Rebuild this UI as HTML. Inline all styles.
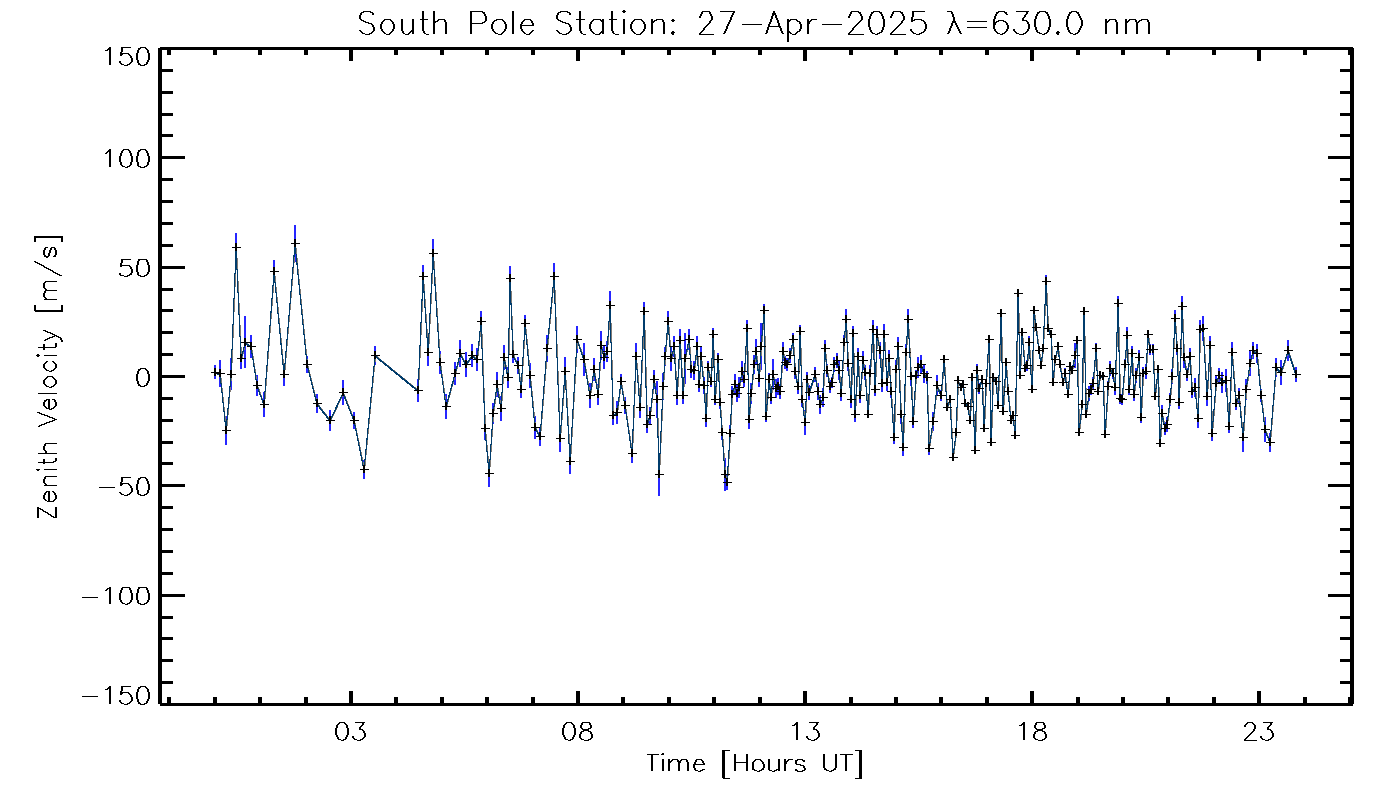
<!DOCTYPE html>
<html lang="en"><head><meta charset="utf-8">
<title>South Pole Station: 27-Apr-2025 λ=630.0 nm</title>
<style>
html,body{margin:0;padding:0;background:#fff}
body{width:1400px;height:800px;overflow:hidden;position:relative;font-family:"Liberation Sans",sans-serif}
svg{display:block;position:absolute;left:0;top:0}
.t{fill:none;stroke:#000;stroke-width:1}
.ln{fill:none;stroke:#003c6c;stroke-width:1;stroke-linecap:square;stroke-linejoin:bevel}
.lg{fill:none;stroke:#807a74;stroke-width:1;stroke-linecap:square;stroke-linejoin:bevel}
.eb{fill:#2626ff}
.ax{fill:#000}
.lbl{fill:#000;fill-opacity:0;font-size:20px}
</style></head><body>
<svg width="1400" height="800" viewBox="0 0 1400 800" shape-rendering="crispEdges" role="img" aria-label="Zenith velocity versus time, South Pole Station">
<rect width="1400" height="800" fill="#fff"/>
<g id="errbars"><path class="eb" d="M214 365h2v14h-2zM219 360h2v27h-2zM225 416h2v29h-2zM230 358h2v32h-2zM235 233h2v29h-2zM240 348h2v21h-2zM244 316h2v52h-2zM250 335h2v23h-2zM256 375h2v21h-2zM263 392h2v25h-2zM273 260h2v23h-2zM283 363h2v23h-2zM294 225h2v37h-2zM306 356h2v17h-2zM316 394h2v19h-2zM329 410h2v21h-2zM342 380h2v25h-2zM353 412h2v17h-2zM363 460h2v19h-2zM374 346h2v19h-2zM417 379h2v23h-2zM422 265h2v23h-2zM427 339h2v27h-2zM432 239h2v29h-2zM439 351h2v23h-2zM445 394h2v25h-2zM454 362h2v23h-2zM459 340h2v27h-2zM465 352h2v25h-2zM471 344h2v23h-2zM476 348h2v23h-2zM480 311h2v21h-2zM484 417h2v23h-2zM488 460h2v27h-2zM492 403h2v21h-2zM496 372h2v25h-2zM500 396h2v25h-2zM503 345h2v25h-2zM507 367h2v21h-2zM509 266h2v25h-2zM512 346h2v17h-2zM517 357h2v17h-2zM520 381h2v17h-2zM524 315h2v17h-2zM529 363h2v25h-2zM534 416h2v23h-2zM539 427h2v19h-2zM546 335h2v27h-2zM553 263h2v27h-2zM559 425h2v27h-2zM564 357h2v29h-2zM569 449h2v25h-2zM576 326h2v27h-2zM583 343h2v33h-2zM589 383h2v25h-2zM593 358h2v23h-2zM597 384h2v21h-2zM600 331h2v29h-2zM603 346h2v23h-2zM606 341h2v21h-2zM609 291h2v29h-2zM612 406h2v19h-2zM616 401h2v23h-2zM620 374h2v15h-2zM624 397h2v17h-2zM631 444h2v19h-2zM635 343h2v27h-2zM639 397h2v21h-2zM643 302h2v19h-2zM646 416h2v17h-2zM649 407h2v17h-2zM653 370h2v19h-2zM656 381h2v37h-2zM658 453h2v43h-2zM662 373h2v27h-2zM664 347h2v19h-2zM667 311h2v21h-2zM670 346h2v25h-2zM673 336h2v21h-2zM676 386h2v19h-2zM679 329h2v23h-2zM682 387h2v17h-2zM684 333h2v51h-2zM688 329h2v21h-2zM690 361h2v17h-2zM693 361h2v19h-2zM696 336h2v21h-2zM698 377h2v15h-2zM700 346h2v21h-2zM703 377h2v17h-2zM705 410h2v17h-2zM707 361h2v13h-2zM710 376h2v11h-2zM712 328h2v13h-2zM714 394h2v11h-2zM717 353h2v13h-2zM719 396h2v13h-2zM721 425h2v15h-2zM724 458h2v33h-2zM726 475h2v15h-2zM729 425h2v17h-2zM731 386h2v17h-2zM734 374h2v21h-2zM736 385h2v17h-2zM738 377h2v21h-2zM741 361h2v21h-2zM743 372h2v15h-2zM746 320h2v17h-2zM748 410h2v19h-2zM750 383h2v21h-2zM753 355h2v19h-2zM755 339h2v25h-2zM758 370h2v17h-2zM760 323h2v47h-2zM763 304h2v13h-2zM765 411h2v11h-2zM768 373h2v13h-2zM770 391h2v13h-2zM772 359h2v31h-2zM775 379h2v19h-2zM777 378h2v17h-2zM779 384h2v15h-2zM782 342h2v19h-2zM784 356h2v13h-2zM786 358h2v13h-2zM789 348h2v15h-2zM792 333h2v13h-2zM794 364h2v15h-2zM797 379h2v15h-2zM799 325h2v13h-2zM801 392h2v15h-2zM804 410h2v25h-2zM806 372h2v15h-2zM808 385h2v15h-2zM814 367h2v15h-2zM817 383h2v17h-2zM819 395h2v19h-2zM822 388h2v19h-2zM824 340h2v17h-2zM826 364h2v13h-2zM829 380h2v13h-2zM831 377h2v11h-2zM833 357h2v15h-2zM836 353h2v15h-2zM838 361h2v19h-2zM840 386h2v15h-2zM843 335h2v15h-2zM845 309h2v21h-2zM847 356h2v15h-2zM850 391h2v17h-2zM852 326h2v15h-2zM854 407h2v15h-2zM857 348h2v17h-2zM859 388h2v15h-2zM862 351h2v19h-2zM864 365h2v15h-2zM867 410h2v8h-2zM869 365h2v17h-2zM872 320h2v19h-2zM874 383h2v13h-2zM876 326h2v17h-2zM879 342h2v17h-2zM881 375h2v17h-2zM883 324h2v21h-2zM886 374h2v17h-2zM888 350h2v17h-2zM890 385h2v13h-2zM893 431h2v13h-2zM895 360h2v19h-2zM897 337h2v19h-2zM900 405h2v19h-2zM902 439h2v17h-2zM905 344h2v17h-2zM907 309h2v21h-2zM910 367h2v19h-2zM912 415h2v13h-2zM915 370h2v11h-2zM917 357h2v21h-2zM920 355h2v19h-2zM923 364h2v19h-2zM926 371h2v13h-2zM928 442h2v13h-2zM932 412h2v19h-2zM936 375h2v21h-2zM940 390h2v11h-2zM943 355h2v8h-2zM946 403h2v8h-2zM949 395h2v8h-2zM952 453h2v8h-2zM955 428h2v8h-2zM957 376h2v8h-2zM960 383h2v8h-2zM962 380h2v8h-2zM964 399h2v8h-2zM967 402h2v8h-2zM969 416h2v8h-2zM971 373h2v8h-2zM974 446h2v8h-2zM976 364h2v13h-2zM978 383h2v11h-2zM981 375h2v8h-2zM983 424h2v8h-2zM985 379h2v8h-2zM988 335h2v8h-2zM990 438h2v8h-2zM992 373h2v8h-2zM995 377h2v8h-2zM997 401h2v8h-2zM1000 309h2v8h-2zM1002 407h2v8h-2zM1005 358h2v8h-2zM1007 387h2v8h-2zM1010 416h2v8h-2zM1012 411h2v8h-2zM1014 431h2v8h-2zM1017 289h2v8h-2zM1019 371h2v8h-2zM1021 328h2v8h-2zM1024 364h2v8h-2zM1026 360h2v11h-2zM1028 336h2v13h-2zM1031 385h2v8h-2zM1033 306h2v8h-2zM1035 323h2v8h-2zM1038 346h2v8h-2zM1040 361h2v8h-2zM1042 344h2v8h-2zM1045 275h2v13h-2zM1047 324h2v8h-2zM1050 330h2v8h-2zM1052 378h2v8h-2zM1054 355h2v8h-2zM1057 342h2v8h-2zM1059 360h2v8h-2zM1062 378h2v8h-2zM1064 368h2v11h-2zM1067 390h2v8h-2zM1069 362h2v8h-2zM1071 366h2v8h-2zM1074 343h2v25h-2zM1076 336h2v8h-2zM1078 428h2v8h-2zM1081 400h2v8h-2zM1083 307h2v8h-2zM1085 410h2v8h-2zM1088 386h2v15h-2zM1090 384h2v11h-2zM1092 377h2v13h-2zM1095 343h2v11h-2zM1097 387h2v8h-2zM1099 371h2v8h-2zM1102 372h2v8h-2zM1104 430h2v8h-2zM1107 381h2v11h-2zM1109 361h2v15h-2zM1112 368h2v11h-2zM1114 380h2v15h-2zM1117 296h2v15h-2zM1119 393h2v11h-2zM1121 394h2v11h-2zM1124 359h2v11h-2zM1126 327h2v17h-2zM1128 384h2v11h-2zM1131 346h2v15h-2zM1133 388h2v13h-2zM1135 368h2v15h-2zM1138 350h2v15h-2zM1140 412h2v11h-2zM1142 367h2v13h-2zM1145 364h2v15h-2zM1147 330h2v8h-2zM1149 344h2v11h-2zM1152 344h2v11h-2zM1154 392h2v8h-2zM1157 365h2v8h-2zM1159 439h2v8h-2zM1161 405h2v17h-2zM1164 422h2v13h-2zM1166 417h2v15h-2zM1169 393h2v13h-2zM1171 369h2v15h-2zM1174 310h2v17h-2zM1176 342h2v13h-2zM1178 396h2v13h-2zM1181 296h2v21h-2zM1183 347h2v21h-2zM1186 368h2v13h-2zM1189 348h2v17h-2zM1191 385h2v13h-2zM1194 378h2v19h-2zM1197 409h2v19h-2zM1199 320h2v19h-2zM1202 316h2v25h-2zM1206 387h2v19h-2zM1209 336h2v19h-2zM1211 426h2v15h-2zM1215 376h2v15h-2zM1218 368h2v15h-2zM1221 372h2v21h-2zM1225 369h2v23h-2zM1228 420h2v13h-2zM1231 342h2v21h-2zM1235 397h2v13h-2zM1238 388h2v15h-2zM1242 423h2v29h-2zM1245 379h2v21h-2zM1249 351h2v25h-2zM1252 342h2v17h-2zM1256 344h2v19h-2zM1260 389h2v13h-2zM1264 417h2v25h-2zM1269 433h2v19h-2zM1275 358h2v19h-2zM1280 360h2v25h-2zM1287 340h2v21h-2zM1295 367h2v15h-2z"/></g>
<g id="series"><polyline id="dg" class="lg" transform="translate(0.5 0)" points="215.02,372.5 220.02,373.5 226.02,430.5 231.02,374.5 236.02,247.5 241.02,358.5 245.02,342.5 251.02,346.5 257.02,385.5 264.02,404.5 274.02,271.5 284.02,374.5 295.02,243.5 307.02,364.5 317.02,403.5 330.02,420.5 343.02,392.5 354.02,420.5 364.02,469.5 375.02,355.5 418.02,390.5 423.02,276.5 428.02,352.5 433.02,253.5 440.02,362.5 446.02,406.5 455.02,373.5 460.02,353.5 466.02,364.5 472.02,355.5 477.02,359.5 481.02,321.5 485.02,428.5 489.02,473.5 493.02,413.5 497.02,384.5 501.02,408.5 504.02,357.5 508.02,377.5 510.02,278.5 513.02,354.5 518.02,365.5 521.02,389.5 525.02,323.5 530.02,375.5 535.02,427.5 540.02,436.5 547.02,348.5 554.02,276.5 560.02,438.5 565.02,371.5 570.02,461.5 577.02,339.5 584.02,359.5 590.02,395.5 594.02,369.5 598.02,394.5 601.02,345.5 604.02,357.5 607.02,351.5 610.02,305.5 613.02,415.5 617.02,412.5 621.02,381.5 625.02,405.5 632.02,453.5 636.02,356.5 640.02,407.5 644.02,311.5 647.02,424.5 650.02,415.5 654.02,379.5 657.02,399.5 659.02,474.5 663.02,386.5 665.02,356.5 668.02,321.5 671.02,358.5 674.02,346.5 677.02,395.5 680.02,340.5 683.02,395.5 685.02,358.5 689.02,339.5 691.02,369.5 694.02,370.5 697.02,346.5 699.02,384.5 701.02,356.5 704.02,385.5 706.02,418.5 708.02,367.5 711.02,381.5 713.02,334.5 715.02,399.5 718.02,359.5 720.02,402.5 722.02,432.5 725.02,474.5 727.02,482.5 730.02,433.5 732.02,394.5 735.02,384.5 737.02,393.5 739.02,387.5 742.02,371.5 744.02,379.5 747.02,328.5 749.02,419.5 751.02,393.5 754.02,364.5 756.02,351.5 759.02,378.5 761.02,346.5 764.02,310.5 766.02,416.5 769.02,379.5 771.02,397.5 773.02,374.5 776.02,388.5 778.02,386.5 780.02,391.5 783.02,351.5 785.02,362.5 787.02,364.5 790.02,355.5 793.02,339.5 795.02,371.5 798.02,386.5 800.02,331.5 802.02,399.5 805.02,422.5 807.02,379.5 809.02,392.5 815.02,374.5 818.02,391.5 820.02,404.5 823.02,397.5 825.02,348.5 827.02,370.5 830.02,386.5 832.02,382.5 834.02,364.5 837.02,360.5 839.02,370.5 841.02,393.5 844.02,342.5 846.02,319.5 848.02,363.5 851.02,399.5 853.02,333.5 855.02,414.5 858.02,356.5 860.02,395.5 863.02,360.5 865.02,372.5 868.02,414.5 870.02,373.5 873.02,329.5 875.02,389.5 877.02,334.5 880.02,350.5 882.02,383.5 884.02,334.5 887.02,382.5 889.02,358.5 891.02,391.5 894.02,437.5 896.02,369.5 898.02,346.5 901.02,414.5 903.02,447.5 906.02,352.5 908.02,319.5 911.02,376.5 913.02,421.5 916.02,375.5 918.02,367.5 921.02,364.5 924.02,373.5 927.02,377.5 929.02,448.5 933.02,421.5 937.02,385.5 941.02,395.5 944.02,359.5 947.02,407.5 950.02,399.5 953.02,457.5 956.02,432.5 958.02,380.5 961.02,387.5 963.02,384.5 965.02,403.5 968.02,406.5 970.02,420.5 972.02,377.5 975.02,450.5 977.02,370.5 979.02,388.5 982.02,379.5 984.02,428.5 986.02,383.5 989.02,339.5 991.02,442.5 993.02,377.5 996.02,381.5 998.02,405.5 1001.02,313.5 1003.02,411.5 1006.02,362.5 1008.02,391.5 1011.02,420.5 1013.02,415.5 1015.02,435.5 1018.02,293.5 1020.02,375.5 1022.02,332.5 1025.02,368.5 1027.02,365.5 1029.02,342.5 1032.02,389.5 1034.02,310.5 1036.02,327.5 1039.02,350.5 1041.02,365.5 1043.02,348.5 1046.02,281.5 1048.02,328.5 1051.02,334.5 1053.02,382.5 1055.02,359.5 1058.02,346.5 1060.02,364.5 1063.02,382.5 1065.02,373.5 1068.02,394.5 1070.02,366.5 1072.02,370.5 1075.02,355.5 1077.02,340.5 1079.02,432.5 1082.02,404.5 1084.02,311.5 1086.02,414.5 1089.02,393.5 1091.02,389.5 1093.02,383.5 1096.02,348.5 1098.02,391.5 1100.02,375.5 1103.02,376.5 1105.02,434.5 1108.02,386.5 1110.02,368.5 1113.02,373.5 1115.02,387.5 1118.02,303.5 1120.02,398.5 1122.02,399.5 1125.02,364.5 1127.02,335.5 1129.02,389.5 1132.02,353.5 1134.02,394.5 1136.02,375.5 1139.02,357.5 1141.02,417.5 1143.02,373.5 1146.02,371.5 1148.02,334.5 1150.02,349.5 1153.02,349.5 1155.02,396.5 1158.02,369.5 1160.02,443.5 1162.02,413.5 1165.02,428.5 1167.02,424.5 1170.02,399.5 1172.02,376.5 1175.02,318.5 1177.02,348.5 1179.02,402.5 1182.02,306.5 1184.02,357.5 1187.02,374.5 1190.02,356.5 1192.02,391.5 1195.02,387.5 1198.02,418.5 1200.02,329.5 1203.02,328.5 1207.02,396.5 1210.02,345.5 1212.02,433.5 1216.02,383.5 1219.02,375.5 1222.02,382.5 1226.02,380.5 1229.02,426.5 1232.02,352.5 1236.02,403.5 1239.02,395.5 1243.02,437.5 1246.02,389.5 1250.02,363.5 1253.02,350.5 1257.02,353.5 1261.02,395.5 1265.02,429.5 1270.02,442.5 1276.02,367.5 1281.02,372.5 1288.02,350.5 1296.02,374.5"/><use href="#dg" y="1"/>
<polyline id="dl" class="ln" points="215.02,372.5 220.02,373.5 226.02,430.5 231.02,374.5 236.02,247.5 241.02,358.5 245.02,342.5 251.02,346.5 257.02,385.5 264.02,404.5 274.02,271.5 284.02,374.5 295.02,243.5 307.02,364.5 317.02,403.5 330.02,420.5 343.02,392.5 354.02,420.5 364.02,469.5 375.02,355.5 418.02,390.5 423.02,276.5 428.02,352.5 433.02,253.5 440.02,362.5 446.02,406.5 455.02,373.5 460.02,353.5 466.02,364.5 472.02,355.5 477.02,359.5 481.02,321.5 485.02,428.5 489.02,473.5 493.02,413.5 497.02,384.5 501.02,408.5 504.02,357.5 508.02,377.5 510.02,278.5 513.02,354.5 518.02,365.5 521.02,389.5 525.02,323.5 530.02,375.5 535.02,427.5 540.02,436.5 547.02,348.5 554.02,276.5 560.02,438.5 565.02,371.5 570.02,461.5 577.02,339.5 584.02,359.5 590.02,395.5 594.02,369.5 598.02,394.5 601.02,345.5 604.02,357.5 607.02,351.5 610.02,305.5 613.02,415.5 617.02,412.5 621.02,381.5 625.02,405.5 632.02,453.5 636.02,356.5 640.02,407.5 644.02,311.5 647.02,424.5 650.02,415.5 654.02,379.5 657.02,399.5 659.02,474.5 663.02,386.5 665.02,356.5 668.02,321.5 671.02,358.5 674.02,346.5 677.02,395.5 680.02,340.5 683.02,395.5 685.02,358.5 689.02,339.5 691.02,369.5 694.02,370.5 697.02,346.5 699.02,384.5 701.02,356.5 704.02,385.5 706.02,418.5 708.02,367.5 711.02,381.5 713.02,334.5 715.02,399.5 718.02,359.5 720.02,402.5 722.02,432.5 725.02,474.5 727.02,482.5 730.02,433.5 732.02,394.5 735.02,384.5 737.02,393.5 739.02,387.5 742.02,371.5 744.02,379.5 747.02,328.5 749.02,419.5 751.02,393.5 754.02,364.5 756.02,351.5 759.02,378.5 761.02,346.5 764.02,310.5 766.02,416.5 769.02,379.5 771.02,397.5 773.02,374.5 776.02,388.5 778.02,386.5 780.02,391.5 783.02,351.5 785.02,362.5 787.02,364.5 790.02,355.5 793.02,339.5 795.02,371.5 798.02,386.5 800.02,331.5 802.02,399.5 805.02,422.5 807.02,379.5 809.02,392.5 815.02,374.5 818.02,391.5 820.02,404.5 823.02,397.5 825.02,348.5 827.02,370.5 830.02,386.5 832.02,382.5 834.02,364.5 837.02,360.5 839.02,370.5 841.02,393.5 844.02,342.5 846.02,319.5 848.02,363.5 851.02,399.5 853.02,333.5 855.02,414.5 858.02,356.5 860.02,395.5 863.02,360.5 865.02,372.5 868.02,414.5 870.02,373.5 873.02,329.5 875.02,389.5 877.02,334.5 880.02,350.5 882.02,383.5 884.02,334.5 887.02,382.5 889.02,358.5 891.02,391.5 894.02,437.5 896.02,369.5 898.02,346.5 901.02,414.5 903.02,447.5 906.02,352.5 908.02,319.5 911.02,376.5 913.02,421.5 916.02,375.5 918.02,367.5 921.02,364.5 924.02,373.5 927.02,377.5 929.02,448.5 933.02,421.5 937.02,385.5 941.02,395.5 944.02,359.5 947.02,407.5 950.02,399.5 953.02,457.5 956.02,432.5 958.02,380.5 961.02,387.5 963.02,384.5 965.02,403.5 968.02,406.5 970.02,420.5 972.02,377.5 975.02,450.5 977.02,370.5 979.02,388.5 982.02,379.5 984.02,428.5 986.02,383.5 989.02,339.5 991.02,442.5 993.02,377.5 996.02,381.5 998.02,405.5 1001.02,313.5 1003.02,411.5 1006.02,362.5 1008.02,391.5 1011.02,420.5 1013.02,415.5 1015.02,435.5 1018.02,293.5 1020.02,375.5 1022.02,332.5 1025.02,368.5 1027.02,365.5 1029.02,342.5 1032.02,389.5 1034.02,310.5 1036.02,327.5 1039.02,350.5 1041.02,365.5 1043.02,348.5 1046.02,281.5 1048.02,328.5 1051.02,334.5 1053.02,382.5 1055.02,359.5 1058.02,346.5 1060.02,364.5 1063.02,382.5 1065.02,373.5 1068.02,394.5 1070.02,366.5 1072.02,370.5 1075.02,355.5 1077.02,340.5 1079.02,432.5 1082.02,404.5 1084.02,311.5 1086.02,414.5 1089.02,393.5 1091.02,389.5 1093.02,383.5 1096.02,348.5 1098.02,391.5 1100.02,375.5 1103.02,376.5 1105.02,434.5 1108.02,386.5 1110.02,368.5 1113.02,373.5 1115.02,387.5 1118.02,303.5 1120.02,398.5 1122.02,399.5 1125.02,364.5 1127.02,335.5 1129.02,389.5 1132.02,353.5 1134.02,394.5 1136.02,375.5 1139.02,357.5 1141.02,417.5 1143.02,373.5 1146.02,371.5 1148.02,334.5 1150.02,349.5 1153.02,349.5 1155.02,396.5 1158.02,369.5 1160.02,443.5 1162.02,413.5 1165.02,428.5 1167.02,424.5 1170.02,399.5 1172.02,376.5 1175.02,318.5 1177.02,348.5 1179.02,402.5 1182.02,306.5 1184.02,357.5 1187.02,374.5 1190.02,356.5 1192.02,391.5 1195.02,387.5 1198.02,418.5 1200.02,329.5 1203.02,328.5 1207.02,396.5 1210.02,345.5 1212.02,433.5 1216.02,383.5 1219.02,375.5 1222.02,382.5 1226.02,380.5 1229.02,426.5 1232.02,352.5 1236.02,403.5 1239.02,395.5 1243.02,437.5 1246.02,389.5 1250.02,363.5 1253.02,350.5 1257.02,353.5 1261.02,395.5 1265.02,429.5 1270.02,442.5 1276.02,367.5 1281.02,372.5 1288.02,350.5 1296.02,374.5"/><use href="#dl" y="1"/></g>
<g id="markers"><path class="ax" d="M214 368h2v8h-2zM211 372h9v1h-9zM219 369h2v8h-2zM216 373h9v1h-9zM225 426h2v8h-2zM222 430h9v1h-9zM230 370h2v8h-2zM227 374h9v1h-9zM235 243h2v8h-2zM232 247h9v1h-9zM240 354h2v8h-2zM237 358h9v1h-9zM244 338h2v8h-2zM241 342h9v1h-9zM250 342h2v8h-2zM247 346h9v1h-9zM256 381h2v8h-2zM253 385h9v1h-9zM263 400h2v8h-2zM260 404h9v1h-9zM273 267h2v8h-2zM270 271h9v1h-9zM283 370h2v8h-2zM280 374h9v1h-9zM294 239h2v8h-2zM291 243h9v1h-9zM306 360h2v8h-2zM303 364h9v1h-9zM316 399h2v8h-2zM313 403h9v1h-9zM329 416h2v8h-2zM326 420h9v1h-9zM342 388h2v8h-2zM339 392h9v1h-9zM353 416h2v8h-2zM350 420h9v1h-9zM363 465h2v8h-2zM360 469h9v1h-9zM374 351h2v8h-2zM371 355h9v1h-9zM417 386h2v8h-2zM414 390h9v1h-9zM422 272h2v8h-2zM419 276h9v1h-9zM427 348h2v8h-2zM424 352h9v1h-9zM432 249h2v8h-2zM429 253h9v1h-9zM439 358h2v8h-2zM436 362h9v1h-9zM445 402h2v8h-2zM442 406h9v1h-9zM454 369h2v8h-2zM451 373h9v1h-9zM459 349h2v8h-2zM456 353h9v1h-9zM465 360h2v8h-2zM462 364h9v1h-9zM471 351h2v8h-2zM468 355h9v1h-9zM476 355h2v8h-2zM473 359h9v1h-9zM480 317h2v8h-2zM477 321h9v1h-9zM484 424h2v8h-2zM481 428h9v1h-9zM488 469h2v8h-2zM485 473h9v1h-9zM492 409h2v8h-2zM489 413h9v1h-9zM496 380h2v8h-2zM493 384h9v1h-9zM500 404h2v8h-2zM497 408h9v1h-9zM503 353h2v8h-2zM500 357h9v1h-9zM507 373h2v8h-2zM504 377h9v1h-9zM509 274h2v8h-2zM506 278h9v1h-9zM512 350h2v8h-2zM509 354h9v1h-9zM517 361h2v8h-2zM514 365h9v1h-9zM520 385h2v8h-2zM517 389h9v1h-9zM524 319h2v8h-2zM521 323h9v1h-9zM529 371h2v8h-2zM526 375h9v1h-9zM534 423h2v8h-2zM531 427h9v1h-9zM539 432h2v8h-2zM536 436h9v1h-9zM546 344h2v8h-2zM543 348h9v1h-9zM553 272h2v8h-2zM550 276h9v1h-9zM559 434h2v8h-2zM556 438h9v1h-9zM564 367h2v8h-2zM561 371h9v1h-9zM569 457h2v8h-2zM566 461h9v1h-9zM576 335h2v8h-2zM573 339h9v1h-9zM583 355h2v8h-2zM580 359h9v1h-9zM589 391h2v8h-2zM586 395h9v1h-9zM593 365h2v8h-2zM590 369h9v1h-9zM597 390h2v8h-2zM594 394h9v1h-9zM600 341h2v8h-2zM597 345h9v1h-9zM603 353h2v8h-2zM600 357h9v1h-9zM606 347h2v8h-2zM603 351h9v1h-9zM609 301h2v8h-2zM606 305h9v1h-9zM612 411h2v8h-2zM609 415h9v1h-9zM616 408h2v8h-2zM613 412h9v1h-9zM620 377h2v8h-2zM617 381h9v1h-9zM624 401h2v8h-2zM621 405h9v1h-9zM631 449h2v8h-2zM628 453h9v1h-9zM635 352h2v8h-2zM632 356h9v1h-9zM639 403h2v8h-2zM636 407h9v1h-9zM643 307h2v8h-2zM640 311h9v1h-9zM646 420h2v8h-2zM643 424h9v1h-9zM649 411h2v8h-2zM646 415h9v1h-9zM653 375h2v8h-2zM650 379h9v1h-9zM656 395h2v8h-2zM653 399h9v1h-9zM658 470h2v8h-2zM655 474h9v1h-9zM662 382h2v8h-2zM659 386h9v1h-9zM664 352h2v8h-2zM661 356h9v1h-9zM667 317h2v8h-2zM664 321h9v1h-9zM670 354h2v8h-2zM667 358h9v1h-9zM673 342h2v8h-2zM670 346h9v1h-9zM676 391h2v8h-2zM673 395h9v1h-9zM679 336h2v8h-2zM676 340h9v1h-9zM682 391h2v8h-2zM679 395h9v1h-9zM684 354h2v8h-2zM681 358h9v1h-9zM688 335h2v8h-2zM685 339h9v1h-9zM690 365h2v8h-2zM687 369h9v1h-9zM693 366h2v8h-2zM690 370h9v1h-9zM696 342h2v8h-2zM693 346h9v1h-9zM698 380h2v8h-2zM695 384h9v1h-9zM700 352h2v8h-2zM697 356h9v1h-9zM703 381h2v8h-2zM700 385h9v1h-9zM705 414h2v8h-2zM702 418h9v1h-9zM707 363h2v8h-2zM704 367h9v1h-9zM710 377h2v8h-2zM707 381h9v1h-9zM712 330h2v8h-2zM709 334h9v1h-9zM714 395h2v8h-2zM711 399h9v1h-9zM717 355h2v8h-2zM714 359h9v1h-9zM719 398h2v8h-2zM716 402h9v1h-9zM721 428h2v8h-2zM718 432h9v1h-9zM724 470h2v8h-2zM721 474h9v1h-9zM726 478h2v8h-2zM723 482h9v1h-9zM729 429h2v8h-2zM726 433h9v1h-9zM731 390h2v8h-2zM728 394h9v1h-9zM734 380h2v8h-2zM731 384h9v1h-9zM736 389h2v8h-2zM733 393h9v1h-9zM738 383h2v8h-2zM735 387h9v1h-9zM741 367h2v8h-2zM738 371h9v1h-9zM743 375h2v8h-2zM740 379h9v1h-9zM746 324h2v8h-2zM743 328h9v1h-9zM748 415h2v8h-2zM745 419h9v1h-9zM750 389h2v8h-2zM747 393h9v1h-9zM753 360h2v8h-2zM750 364h9v1h-9zM755 347h2v8h-2zM752 351h9v1h-9zM758 374h2v8h-2zM755 378h9v1h-9zM760 342h2v8h-2zM757 346h9v1h-9zM763 306h2v8h-2zM760 310h9v1h-9zM765 412h2v8h-2zM762 416h9v1h-9zM768 375h2v8h-2zM765 379h9v1h-9zM770 393h2v8h-2zM767 397h9v1h-9zM772 370h2v8h-2zM769 374h9v1h-9zM775 384h2v8h-2zM772 388h9v1h-9zM777 382h2v8h-2zM774 386h9v1h-9zM779 387h2v8h-2zM776 391h9v1h-9zM782 347h2v8h-2zM779 351h9v1h-9zM784 358h2v8h-2zM781 362h9v1h-9zM786 360h2v8h-2zM783 364h9v1h-9zM789 351h2v8h-2zM786 355h9v1h-9zM792 335h2v8h-2zM789 339h9v1h-9zM794 367h2v8h-2zM791 371h9v1h-9zM797 382h2v8h-2zM794 386h9v1h-9zM799 327h2v8h-2zM796 331h9v1h-9zM801 395h2v8h-2zM798 399h9v1h-9zM804 418h2v8h-2zM801 422h9v1h-9zM806 375h2v8h-2zM803 379h9v1h-9zM808 388h2v8h-2zM805 392h9v1h-9zM814 370h2v8h-2zM811 374h9v1h-9zM817 387h2v8h-2zM814 391h9v1h-9zM819 400h2v8h-2zM816 404h9v1h-9zM822 393h2v8h-2zM819 397h9v1h-9zM824 344h2v8h-2zM821 348h9v1h-9zM826 366h2v8h-2zM823 370h9v1h-9zM829 382h2v8h-2zM826 386h9v1h-9zM831 378h2v8h-2zM828 382h9v1h-9zM833 360h2v8h-2zM830 364h9v1h-9zM836 356h2v8h-2zM833 360h9v1h-9zM838 366h2v8h-2zM835 370h9v1h-9zM840 389h2v8h-2zM837 393h9v1h-9zM843 338h2v8h-2zM840 342h9v1h-9zM845 315h2v8h-2zM842 319h9v1h-9zM847 359h2v8h-2zM844 363h9v1h-9zM850 395h2v8h-2zM847 399h9v1h-9zM852 329h2v8h-2zM849 333h9v1h-9zM854 410h2v8h-2zM851 414h9v1h-9zM857 352h2v8h-2zM854 356h9v1h-9zM859 391h2v8h-2zM856 395h9v1h-9zM862 356h2v8h-2zM859 360h9v1h-9zM864 368h2v8h-2zM861 372h9v1h-9zM867 410h2v8h-2zM864 414h9v1h-9zM869 369h2v8h-2zM866 373h9v1h-9zM872 325h2v8h-2zM869 329h9v1h-9zM874 385h2v8h-2zM871 389h9v1h-9zM876 330h2v8h-2zM873 334h9v1h-9zM879 346h2v8h-2zM876 350h9v1h-9zM881 379h2v8h-2zM878 383h9v1h-9zM883 330h2v8h-2zM880 334h9v1h-9zM886 378h2v8h-2zM883 382h9v1h-9zM888 354h2v8h-2zM885 358h9v1h-9zM890 387h2v8h-2zM887 391h9v1h-9zM893 433h2v8h-2zM890 437h9v1h-9zM895 365h2v8h-2zM892 369h9v1h-9zM897 342h2v8h-2zM894 346h9v1h-9zM900 410h2v8h-2zM897 414h9v1h-9zM902 443h2v8h-2zM899 447h9v1h-9zM905 348h2v8h-2zM902 352h9v1h-9zM907 315h2v8h-2zM904 319h9v1h-9zM910 372h2v8h-2zM907 376h9v1h-9zM912 417h2v8h-2zM909 421h9v1h-9zM915 371h2v8h-2zM912 375h9v1h-9zM917 363h2v8h-2zM914 367h9v1h-9zM920 360h2v8h-2zM917 364h9v1h-9zM923 369h2v8h-2zM920 373h9v1h-9zM926 373h2v8h-2zM923 377h9v1h-9zM928 444h2v8h-2zM925 448h9v1h-9zM932 417h2v8h-2zM929 421h9v1h-9zM936 381h2v8h-2zM933 385h9v1h-9zM940 391h2v8h-2zM937 395h9v1h-9zM943 355h2v8h-2zM940 359h9v1h-9zM946 403h2v8h-2zM943 407h9v1h-9zM949 395h2v8h-2zM946 399h9v1h-9zM952 453h2v8h-2zM949 457h9v1h-9zM955 428h2v8h-2zM952 432h9v1h-9zM957 376h2v8h-2zM954 380h9v1h-9zM960 383h2v8h-2zM957 387h9v1h-9zM962 380h2v8h-2zM959 384h9v1h-9zM964 399h2v8h-2zM961 403h9v1h-9zM967 402h2v8h-2zM964 406h9v1h-9zM969 416h2v8h-2zM966 420h9v1h-9zM971 373h2v8h-2zM968 377h9v1h-9zM974 446h2v8h-2zM971 450h9v1h-9zM976 366h2v8h-2zM973 370h9v1h-9zM978 384h2v8h-2zM975 388h9v1h-9zM981 375h2v8h-2zM978 379h9v1h-9zM983 424h2v8h-2zM980 428h9v1h-9zM985 379h2v8h-2zM982 383h9v1h-9zM988 335h2v8h-2zM985 339h9v1h-9zM990 438h2v8h-2zM987 442h9v1h-9zM992 373h2v8h-2zM989 377h9v1h-9zM995 377h2v8h-2zM992 381h9v1h-9zM997 401h2v8h-2zM994 405h9v1h-9zM1000 309h2v8h-2zM997 313h9v1h-9zM1002 407h2v8h-2zM999 411h9v1h-9zM1005 358h2v8h-2zM1002 362h9v1h-9zM1007 387h2v8h-2zM1004 391h9v1h-9zM1010 416h2v8h-2zM1007 420h9v1h-9zM1012 411h2v8h-2zM1009 415h9v1h-9zM1014 431h2v8h-2zM1011 435h9v1h-9zM1017 289h2v8h-2zM1014 293h9v1h-9zM1019 371h2v8h-2zM1016 375h9v1h-9zM1021 328h2v8h-2zM1018 332h9v1h-9zM1024 364h2v8h-2zM1021 368h9v1h-9zM1026 361h2v8h-2zM1023 365h9v1h-9zM1028 338h2v8h-2zM1025 342h9v1h-9zM1031 385h2v8h-2zM1028 389h9v1h-9zM1033 306h2v8h-2zM1030 310h9v1h-9zM1035 323h2v8h-2zM1032 327h9v1h-9zM1038 346h2v8h-2zM1035 350h9v1h-9zM1040 361h2v8h-2zM1037 365h9v1h-9zM1042 344h2v8h-2zM1039 348h9v1h-9zM1045 277h2v8h-2zM1042 281h9v1h-9zM1047 324h2v8h-2zM1044 328h9v1h-9zM1050 330h2v8h-2zM1047 334h9v1h-9zM1052 378h2v8h-2zM1049 382h9v1h-9zM1054 355h2v8h-2zM1051 359h9v1h-9zM1057 342h2v8h-2zM1054 346h9v1h-9zM1059 360h2v8h-2zM1056 364h9v1h-9zM1062 378h2v8h-2zM1059 382h9v1h-9zM1064 369h2v8h-2zM1061 373h9v1h-9zM1067 390h2v8h-2zM1064 394h9v1h-9zM1069 362h2v8h-2zM1066 366h9v1h-9zM1071 366h2v8h-2zM1068 370h9v1h-9zM1074 351h2v8h-2zM1071 355h9v1h-9zM1076 336h2v8h-2zM1073 340h9v1h-9zM1078 428h2v8h-2zM1075 432h9v1h-9zM1081 400h2v8h-2zM1078 404h9v1h-9zM1083 307h2v8h-2zM1080 311h9v1h-9zM1085 410h2v8h-2zM1082 414h9v1h-9zM1088 389h2v8h-2zM1085 393h9v1h-9zM1090 385h2v8h-2zM1087 389h9v1h-9zM1092 379h2v8h-2zM1089 383h9v1h-9zM1095 344h2v8h-2zM1092 348h9v1h-9zM1097 387h2v8h-2zM1094 391h9v1h-9zM1099 371h2v8h-2zM1096 375h9v1h-9zM1102 372h2v8h-2zM1099 376h9v1h-9zM1104 430h2v8h-2zM1101 434h9v1h-9zM1107 382h2v8h-2zM1104 386h9v1h-9zM1109 364h2v8h-2zM1106 368h9v1h-9zM1112 369h2v8h-2zM1109 373h9v1h-9zM1114 383h2v8h-2zM1111 387h9v1h-9zM1117 299h2v8h-2zM1114 303h9v1h-9zM1119 394h2v8h-2zM1116 398h9v1h-9zM1121 395h2v8h-2zM1118 399h9v1h-9zM1124 360h2v8h-2zM1121 364h9v1h-9zM1126 331h2v8h-2zM1123 335h9v1h-9zM1128 385h2v8h-2zM1125 389h9v1h-9zM1131 349h2v8h-2zM1128 353h9v1h-9zM1133 390h2v8h-2zM1130 394h9v1h-9zM1135 371h2v8h-2zM1132 375h9v1h-9zM1138 353h2v8h-2zM1135 357h9v1h-9zM1140 413h2v8h-2zM1137 417h9v1h-9zM1142 369h2v8h-2zM1139 373h9v1h-9zM1145 367h2v8h-2zM1142 371h9v1h-9zM1147 330h2v8h-2zM1144 334h9v1h-9zM1149 345h2v8h-2zM1146 349h9v1h-9zM1152 345h2v8h-2zM1149 349h9v1h-9zM1154 392h2v8h-2zM1151 396h9v1h-9zM1157 365h2v8h-2zM1154 369h9v1h-9zM1159 439h2v8h-2zM1156 443h9v1h-9zM1161 409h2v8h-2zM1158 413h9v1h-9zM1164 424h2v8h-2zM1161 428h9v1h-9zM1166 420h2v8h-2zM1163 424h9v1h-9zM1169 395h2v8h-2zM1166 399h9v1h-9zM1171 372h2v8h-2zM1168 376h9v1h-9zM1174 314h2v8h-2zM1171 318h9v1h-9zM1176 344h2v8h-2zM1173 348h9v1h-9zM1178 398h2v8h-2zM1175 402h9v1h-9zM1181 302h2v8h-2zM1178 306h9v1h-9zM1183 353h2v8h-2zM1180 357h9v1h-9zM1186 370h2v8h-2zM1183 374h9v1h-9zM1189 352h2v8h-2zM1186 356h9v1h-9zM1191 387h2v8h-2zM1188 391h9v1h-9zM1194 383h2v8h-2zM1191 387h9v1h-9zM1197 414h2v8h-2zM1194 418h9v1h-9zM1199 325h2v8h-2zM1196 329h9v1h-9zM1202 324h2v8h-2zM1199 328h9v1h-9zM1206 392h2v8h-2zM1203 396h9v1h-9zM1209 341h2v8h-2zM1206 345h9v1h-9zM1211 429h2v8h-2zM1208 433h9v1h-9zM1215 379h2v8h-2zM1212 383h9v1h-9zM1218 371h2v8h-2zM1215 375h9v1h-9zM1221 378h2v8h-2zM1218 382h9v1h-9zM1225 376h2v8h-2zM1222 380h9v1h-9zM1228 422h2v8h-2zM1225 426h9v1h-9zM1231 348h2v8h-2zM1228 352h9v1h-9zM1235 399h2v8h-2zM1232 403h9v1h-9zM1238 391h2v8h-2zM1235 395h9v1h-9zM1242 433h2v8h-2zM1239 437h9v1h-9zM1245 385h2v8h-2zM1242 389h9v1h-9zM1249 359h2v8h-2zM1246 363h9v1h-9zM1252 346h2v8h-2zM1249 350h9v1h-9zM1256 349h2v8h-2zM1253 353h9v1h-9zM1260 391h2v8h-2zM1257 395h9v1h-9zM1264 425h2v8h-2zM1261 429h9v1h-9zM1269 438h2v8h-2zM1266 442h9v1h-9zM1275 363h2v8h-2zM1272 367h9v1h-9zM1280 368h2v8h-2zM1277 372h9v1h-9zM1287 346h2v8h-2zM1284 350h9v1h-9zM1295 370h2v8h-2zM1292 374h9v1h-9z"/></g>
<g id="axes"><path class="ax" d="M158 48h4v656h-4zM160 47h1193v1h-1193zM160 48h1194v2h-1194zM160 703h1193v3h-1193zM1350 47h3v657h-3zM1353 48h1v656h-1zM167 47h4v8h-4zM167 697h4v9h-4zM213 47h4v8h-4zM213 697h4v9h-4zM258 47h4v8h-4zM258 697h4v9h-4zM304 47h4v8h-4zM304 697h4v9h-4zM349 47h4v14h-4zM349 691h4v15h-4zM394 47h4v8h-4zM394 697h4v9h-4zM440 47h4v8h-4zM440 697h4v9h-4zM485 47h4v8h-4zM485 697h4v9h-4zM531 47h4v8h-4zM531 697h4v9h-4zM576 47h4v14h-4zM576 691h4v15h-4zM621 47h4v8h-4zM621 697h4v9h-4zM667 47h4v8h-4zM667 697h4v9h-4zM712 47h4v8h-4zM712 697h4v9h-4zM758 47h4v8h-4zM758 697h4v9h-4zM803 47h4v14h-4zM803 691h4v15h-4zM849 47h4v8h-4zM849 697h4v9h-4zM894 47h4v8h-4zM894 697h4v9h-4zM939 47h4v8h-4zM939 697h4v9h-4zM985 47h4v8h-4zM985 697h4v9h-4zM1030 47h4v14h-4zM1030 691h4v15h-4zM1076 47h4v8h-4zM1076 697h4v9h-4zM1121 47h4v8h-4zM1121 697h4v9h-4zM1166 47h4v8h-4zM1166 697h4v9h-4zM1212 47h4v8h-4zM1212 697h4v9h-4zM1257 47h4v14h-4zM1257 691h4v15h-4zM1303 47h4v8h-4zM1303 697h4v9h-4zM1348 47h4v8h-4zM1348 697h4v9h-4zM158 681h15v3h-15zM1340 681h14v3h-14zM158 659h15v3h-15zM1340 659h14v3h-14zM158 637h15v3h-15zM1340 637h14v3h-14zM158 616h15v3h-15zM1340 616h14v3h-14zM158 594h27v3h-27zM1328 594h26v3h-26zM158 572h15v3h-15zM1340 572h14v3h-14zM158 550h15v3h-15zM1340 550h14v3h-14zM158 528h15v3h-15zM1340 528h14v3h-14zM158 506h15v3h-15zM1340 506h14v3h-14zM158 484h27v3h-27zM1328 484h26v3h-26zM158 462h15v3h-15zM1340 462h14v3h-14zM158 441h15v3h-15zM1340 441h14v3h-14zM158 419h15v3h-15zM1340 419h14v3h-14zM158 397h15v3h-15zM1340 397h14v3h-14zM158 375h27v3h-27zM1328 375h26v3h-26zM158 353h15v3h-15zM1340 353h14v3h-14zM158 331h15v3h-15zM1340 331h14v3h-14zM158 309h15v3h-15zM1340 309h14v3h-14zM158 288h15v3h-15zM1340 288h14v3h-14zM158 266h27v3h-27zM1328 266h26v3h-26zM158 244h15v3h-15zM1340 244h14v3h-14zM158 222h15v3h-15zM1340 222h14v3h-14zM158 200h15v3h-15zM1340 200h14v3h-14zM158 178h15v3h-15zM1340 178h14v3h-14zM158 156h27v3h-27zM1328 156h26v3h-26zM158 134h15v3h-15zM1340 134h14v3h-14zM158 113h15v3h-15zM1340 113h14v3h-14zM158 91h15v3h-15zM1340 91h14v3h-14zM158 69h15v3h-15zM1340 69h14v3h-14z"/></g>
<g id="labels"><path id="title" class="t" d="M623 10.5h2M363 11.5h8M422 11.5h2M433 11.5h2M470 11.5h13M512 11.5h2M560 11.5h8M579 11.5h2M611 11.5h2M622 11.5h4M702 11.5h8M720 11.5h15M773 11.5h2M851 11.5h8M873 11.5h7M893 11.5h8M912 11.5h13M947 11.5h5M998 11.5h7M1016 11.5h13M1039 11.5h7M1071 11.5h6M361 12.5h3M370 12.5h3M422 12.5h2M433 12.5h2M470 12.5h2M482 12.5h3M512 12.5h2M558 12.5h3M567 12.5h3M579 12.5h2M611 12.5h2M623 12.5h2M701 12.5h2M709 12.5h2M733 12.5h2M773 12.5h2M850 12.5h2M858 12.5h3M871 12.5h3M879 12.5h3M892 12.5h2M900 12.5h3M912 12.5h2M951 12.5h2M996 12.5h3M1004 12.5h3M1026 12.5h2M1037 12.5h3M1045 12.5h3M1069 12.5h3M1076 12.5h3M360 13.5h2M372 13.5h2M422 13.5h2M433 13.5h2M470 13.5h2M483 13.5h2M512 13.5h2M557 13.5h2M569 13.5h2M579 13.5h2M611 13.5h2M701 13.5h2M709 13.5h2M732 13.5h2M772 13.5h4M850 13.5h2M859 13.5h2M871 13.5h2M880 13.5h2M892 13.5h2M901 13.5h2M912 13.5h2M951 13.5h2M996 13.5h2M1005 13.5h2M1026 13.5h2M1037 13.5h2M1046 13.5h2M1069 13.5h2M1077 13.5h2M360 14.5h2M372 14.5h2M422 14.5h2M433 14.5h2M470 14.5h2M484 14.5h2M512 14.5h2M557 14.5h2M569 14.5h2M579 14.5h2M611 14.5h2M700 14.5h2M710 14.5h2M732 14.5h2M772 14.5h4M849 14.5h2M860 14.5h2M870 14.5h2M881 14.5h2M891 14.5h2M902 14.5h2M912 14.5h2M952 14.5h2M995 14.5h2M1006 14.5h2M1025 14.5h2M1036 14.5h2M1047 14.5h2M1068 14.5h2M1078 14.5h2M359 15.5h2M422 15.5h2M433 15.5h2M470 15.5h2M484 15.5h2M512 15.5h2M556 15.5h2M579 15.5h2M611 15.5h2M700 15.5h2M710 15.5h2M731 15.5h2M772 15.5h2M775 15.5h2M849 15.5h2M860 15.5h2M870 15.5h2M881 15.5h2M891 15.5h2M902 15.5h2M912 15.5h2M952 15.5h2M995 15.5h2M1024 15.5h2M1036 15.5h2M1047 15.5h2M1068 15.5h2M1078 15.5h2M359 16.5h2M422 16.5h2M433 16.5h2M470 16.5h2M485 16.5h2M512 16.5h2M556 16.5h2M579 16.5h2M611 16.5h2M699 16.5h2M711 16.5h2M731 16.5h2M771 16.5h2M775 16.5h2M848 16.5h2M861 16.5h2M869 16.5h2M882 16.5h2M890 16.5h2M903 16.5h2M912 16.5h2M952 16.5h2M994 16.5h2M1024 16.5h2M1035 16.5h2M1048 16.5h2M1067 16.5h2M1079 16.5h2M359 17.5h2M422 17.5h2M433 17.5h2M470 17.5h2M485 17.5h2M512 17.5h2M556 17.5h2M579 17.5h2M611 17.5h2M699 17.5h2M711 17.5h2M730 17.5h2M771 17.5h2M775 17.5h2M848 17.5h2M861 17.5h2M869 17.5h2M882 17.5h2M890 17.5h2M903 17.5h2M911 17.5h2M953 17.5h2M994 17.5h2M1023 17.5h2M1035 17.5h2M1048 17.5h2M1067 17.5h2M1079 17.5h2M359 18.5h2M422 18.5h2M433 18.5h2M470 18.5h2M485 18.5h2M512 18.5h2M556 18.5h2M579 18.5h2M611 18.5h2M711 18.5h2M730 18.5h2M771 18.5h2M776 18.5h2M861 18.5h2M869 18.5h2M882 18.5h2M903 18.5h2M911 18.5h2M953 18.5h2M994 18.5h2M1022 18.5h2M1035 18.5h2M1048 18.5h2M1067 18.5h2M1080 18.5h2M360 19.5h2M384 19.5h7M401 19.5h2M412 19.5h2M420 19.5h8M433 19.5h2M438 19.5h7M470 19.5h2M485 19.5h2M496 19.5h7M512 19.5h2M524 19.5h7M557 19.5h2M576 19.5h9M593 19.5h8M602 19.5h2M609 19.5h8M623 19.5h2M634 19.5h8M651 19.5h2M656 19.5h7M672 19.5h2M711 19.5h2M730 19.5h2M770 19.5h2M776 19.5h2M787 19.5h2M790 19.5h7M807 19.5h2M811 19.5h6M861 19.5h2M868 19.5h2M883 19.5h2M903 19.5h2M911 19.5h2M914 19.5h8M953 19.5h2M993 19.5h2M1022 19.5h2M1034 19.5h2M1049 19.5h2M1066 19.5h2M1080 19.5h2M1105 19.5h2M1109 19.5h7M1125 19.5h2M1129 19.5h7M1141 19.5h7M361 20.5h3M383 20.5h2M390 20.5h2M401 20.5h2M412 20.5h2M422 20.5h2M433 20.5h2M437 20.5h2M444 20.5h2M470 20.5h2M485 20.5h2M494 20.5h3M502 20.5h2M512 20.5h2M523 20.5h2M530 20.5h2M558 20.5h3M579 20.5h2M592 20.5h2M600 20.5h4M611 20.5h2M623 20.5h2M633 20.5h2M641 20.5h2M651 20.5h2M654 20.5h3M662 20.5h2M671 20.5h4M710 20.5h2M729 20.5h2M770 20.5h2M777 20.5h2M787 20.5h4M796 20.5h2M807 20.5h2M810 20.5h2M860 20.5h2M868 20.5h2M883 20.5h2M902 20.5h2M911 20.5h4M921 20.5h3M953 20.5h2M993 20.5h2M998 20.5h6M1022 20.5h5M1034 20.5h2M1049 20.5h2M1066 20.5h2M1081 20.5h2M1105 20.5h2M1108 20.5h2M1115 20.5h2M1125 20.5h2M1128 20.5h2M1135 20.5h2M1139 20.5h3M1147 20.5h2M363 21.5h3M382 21.5h2M391 21.5h2M401 21.5h2M412 21.5h2M422 21.5h2M433 21.5h5M444 21.5h2M470 21.5h2M484 21.5h2M493 21.5h2M503 21.5h2M512 21.5h2M522 21.5h2M531 21.5h2M560 21.5h3M579 21.5h2M591 21.5h2M601 21.5h3M611 21.5h2M623 21.5h2M632 21.5h2M642 21.5h2M651 21.5h4M662 21.5h2M672 21.5h2M709 21.5h2M729 21.5h2M770 21.5h2M777 21.5h2M787 21.5h3M797 21.5h3M807 21.5h4M859 21.5h2M868 21.5h2M883 21.5h2M901 21.5h2M911 21.5h2M923 21.5h2M952 21.5h4M967 21.5h20M993 21.5h2M996 21.5h3M1003 21.5h3M1026 21.5h2M1034 21.5h2M1049 21.5h2M1066 21.5h2M1081 21.5h2M1105 21.5h4M1115 21.5h2M1125 21.5h4M1135 21.5h2M1138 21.5h2M1147 21.5h2M365 22.5h4M381 22.5h2M392 22.5h2M401 22.5h2M412 22.5h2M422 22.5h2M433 22.5h3M445 22.5h2M470 22.5h2M482 22.5h3M492 22.5h2M504 22.5h2M512 22.5h2M521 22.5h2M531 22.5h2M562 22.5h4M579 22.5h2M590 22.5h2M602 22.5h2M611 22.5h2M623 22.5h2M631 22.5h2M643 22.5h2M651 22.5h3M663 22.5h2M709 22.5h2M728 22.5h2M769 22.5h2M777 22.5h2M787 22.5h2M799 22.5h2M807 22.5h3M858 22.5h2M868 22.5h2M883 22.5h2M901 22.5h2M924 22.5h2M952 22.5h4M993 22.5h4M1005 22.5h2M1027 22.5h2M1034 22.5h2M1049 22.5h2M1066 22.5h2M1081 22.5h2M1105 22.5h3M1116 22.5h2M1125 22.5h3M1136 22.5h3M1148 22.5h2M368 23.5h4M381 23.5h2M392 23.5h2M401 23.5h2M412 23.5h2M422 23.5h2M433 23.5h2M445 23.5h2M470 23.5h13M492 23.5h2M504 23.5h2M512 23.5h2M521 23.5h2M532 23.5h2M565 23.5h4M579 23.5h2M590 23.5h2M602 23.5h2M611 23.5h2M623 23.5h2M631 23.5h2M643 23.5h2M651 23.5h2M663 23.5h2M708 23.5h2M728 23.5h2M769 23.5h2M778 23.5h2M787 23.5h2M799 23.5h2M807 23.5h3M857 23.5h2M868 23.5h2M883 23.5h2M900 23.5h2M924 23.5h2M951 23.5h2M955 23.5h2M993 23.5h3M1006 23.5h2M1027 23.5h2M1034 23.5h2M1049 23.5h2M1066 23.5h2M1081 23.5h2M1105 23.5h2M1116 23.5h2M1125 23.5h2M1136 23.5h2M1148 23.5h2M371 24.5h2M380 24.5h2M393 24.5h2M401 24.5h2M412 24.5h2M422 24.5h2M433 24.5h2M445 24.5h2M470 24.5h2M491 24.5h2M505 24.5h2M512 24.5h2M520 24.5h2M532 24.5h2M568 24.5h2M579 24.5h2M589 24.5h2M602 24.5h2M611 24.5h2M623 24.5h2M630 24.5h2M644 24.5h2M651 24.5h2M663 24.5h2M707 24.5h2M727 24.5h2M742 24.5h20M768 24.5h2M778 24.5h2M787 24.5h2M800 24.5h2M807 24.5h2M822 24.5h20M856 24.5h2M868 24.5h2M883 24.5h2M899 24.5h2M925 24.5h2M951 24.5h2M955 24.5h2M993 24.5h3M1006 24.5h2M1028 24.5h2M1034 24.5h2M1049 24.5h2M1066 24.5h2M1081 24.5h2M1105 24.5h2M1116 24.5h2M1125 24.5h2M1136 24.5h2M1148 24.5h2M372 25.5h2M380 25.5h2M393 25.5h2M401 25.5h2M412 25.5h2M422 25.5h2M433 25.5h2M445 25.5h2M470 25.5h2M491 25.5h2M505 25.5h2M512 25.5h2M520 25.5h14M569 25.5h2M579 25.5h2M589 25.5h2M602 25.5h2M611 25.5h2M623 25.5h2M630 25.5h2M644 25.5h2M651 25.5h2M663 25.5h2M706 25.5h2M727 25.5h2M768 25.5h2M778 25.5h2M787 25.5h2M800 25.5h2M807 25.5h2M855 25.5h2M868 25.5h2M883 25.5h2M898 25.5h2M925 25.5h2M951 25.5h2M956 25.5h2M993 25.5h2M1007 25.5h2M1028 25.5h2M1034 25.5h2M1049 25.5h2M1066 25.5h2M1081 25.5h2M1105 25.5h2M1116 25.5h2M1125 25.5h2M1136 25.5h2M1148 25.5h2M372 26.5h2M380 26.5h2M393 26.5h2M401 26.5h2M412 26.5h2M422 26.5h2M433 26.5h2M445 26.5h2M470 26.5h2M491 26.5h2M505 26.5h2M512 26.5h2M520 26.5h2M569 26.5h2M579 26.5h2M589 26.5h2M602 26.5h2M611 26.5h2M623 26.5h2M630 26.5h2M644 26.5h2M651 26.5h2M663 26.5h2M705 26.5h2M726 26.5h2M768 26.5h13M787 26.5h2M800 26.5h2M807 26.5h2M854 26.5h2M868 26.5h2M883 26.5h2M897 26.5h2M925 26.5h2M950 26.5h2M956 26.5h2M993 26.5h2M1007 26.5h2M1028 26.5h2M1034 26.5h2M1049 26.5h2M1066 26.5h2M1080 26.5h2M1105 26.5h2M1116 26.5h2M1125 26.5h2M1136 26.5h2M1148 26.5h2M373 27.5h2M380 27.5h2M393 27.5h2M401 27.5h2M412 27.5h2M422 27.5h2M433 27.5h2M445 27.5h2M470 27.5h2M491 27.5h2M505 27.5h2M512 27.5h2M520 27.5h2M570 27.5h2M579 27.5h2M589 27.5h2M602 27.5h2M611 27.5h2M623 27.5h2M630 27.5h2M644 27.5h2M651 27.5h2M663 27.5h2M704 27.5h2M726 27.5h2M767 27.5h2M779 27.5h2M787 27.5h2M800 27.5h2M807 27.5h2M853 27.5h2M869 27.5h2M882 27.5h2M896 27.5h2M925 27.5h2M950 27.5h2M957 27.5h2M967 27.5h20M993 27.5h2M1007 27.5h2M1028 27.5h2M1035 27.5h2M1048 27.5h2M1067 27.5h2M1080 27.5h2M1105 27.5h2M1116 27.5h2M1125 27.5h2M1136 27.5h2M1148 27.5h2M373 28.5h2M380 28.5h2M393 28.5h2M401 28.5h2M412 28.5h2M422 28.5h2M433 28.5h2M445 28.5h2M470 28.5h2M491 28.5h2M505 28.5h2M512 28.5h2M520 28.5h2M570 28.5h2M579 28.5h2M589 28.5h2M602 28.5h2M611 28.5h2M623 28.5h2M630 28.5h2M644 28.5h2M651 28.5h2M663 28.5h2M703 28.5h2M726 28.5h2M767 28.5h2M780 28.5h2M787 28.5h2M800 28.5h2M807 28.5h2M852 28.5h2M869 28.5h2M882 28.5h2M895 28.5h2M925 28.5h2M949 28.5h2M957 28.5h2M993 28.5h2M1007 28.5h2M1028 28.5h2M1035 28.5h2M1048 28.5h2M1067 28.5h2M1079 28.5h2M1105 28.5h2M1116 28.5h2M1125 28.5h2M1136 28.5h2M1148 28.5h2M373 29.5h2M381 29.5h2M392 29.5h2M401 29.5h2M412 29.5h2M422 29.5h2M433 29.5h2M445 29.5h2M470 29.5h2M492 29.5h2M504 29.5h2M512 29.5h2M521 29.5h2M570 29.5h2M579 29.5h2M590 29.5h2M602 29.5h2M611 29.5h2M623 29.5h2M631 29.5h2M643 29.5h2M651 29.5h2M663 29.5h2M703 29.5h2M725 29.5h2M767 29.5h2M780 29.5h2M787 29.5h2M799 29.5h2M807 29.5h2M852 29.5h2M869 29.5h2M882 29.5h2M894 29.5h2M910 29.5h2M924 29.5h2M949 29.5h2M958 29.5h2M994 29.5h2M1006 29.5h2M1013 29.5h2M1027 29.5h2M1035 29.5h2M1048 29.5h2M1067 29.5h2M1079 29.5h2M1105 29.5h2M1116 29.5h2M1125 29.5h2M1136 29.5h2M1148 29.5h2M359 30.5h2M373 30.5h2M381 30.5h2M392 30.5h2M401 30.5h2M411 30.5h3M422 30.5h2M433 30.5h2M445 30.5h2M470 30.5h2M492 30.5h2M504 30.5h2M512 30.5h2M521 30.5h2M532 30.5h2M556 30.5h2M570 30.5h2M579 30.5h2M590 30.5h2M602 30.5h2M611 30.5h2M623 30.5h2M631 30.5h2M643 30.5h2M651 30.5h2M663 30.5h2M702 30.5h2M725 30.5h2M766 30.5h2M780 30.5h2M787 30.5h2M799 30.5h2M807 30.5h2M851 30.5h2M870 30.5h2M881 30.5h2M893 30.5h2M910 30.5h2M924 30.5h2M949 30.5h2M958 30.5h2M994 30.5h2M1006 30.5h2M1013 30.5h2M1027 30.5h2M1036 30.5h2M1047 30.5h2M1068 30.5h2M1078 30.5h2M1105 30.5h2M1116 30.5h2M1125 30.5h2M1136 30.5h2M1148 30.5h2M360 31.5h2M372 31.5h2M382 31.5h2M391 31.5h2M402 31.5h2M410 31.5h4M423 31.5h2M433 31.5h2M445 31.5h2M470 31.5h2M493 31.5h2M503 31.5h2M512 31.5h2M522 31.5h2M531 31.5h2M557 31.5h2M569 31.5h2M580 31.5h2M591 31.5h2M601 31.5h3M612 31.5h2M623 31.5h2M632 31.5h2M642 31.5h2M651 31.5h2M663 31.5h2M672 31.5h2M701 31.5h2M724 31.5h2M766 31.5h2M781 31.5h2M787 31.5h3M797 31.5h3M807 31.5h2M850 31.5h2M870 31.5h2M881 31.5h2M892 31.5h2M911 31.5h2M923 31.5h2M948 31.5h2M959 31.5h2M995 31.5h2M1005 31.5h2M1014 31.5h2M1026 31.5h2M1036 31.5h2M1047 31.5h2M1057 31.5h2M1068 31.5h2M1078 31.5h2M1105 31.5h2M1116 31.5h2M1125 31.5h2M1136 31.5h2M1148 31.5h2M361 32.5h2M371 32.5h2M383 32.5h2M390 32.5h2M402 32.5h2M409 32.5h2M412 32.5h2M423 32.5h2M433 32.5h2M445 32.5h2M470 32.5h2M494 32.5h2M502 32.5h2M512 32.5h2M523 32.5h2M530 32.5h2M558 32.5h2M568 32.5h2M580 32.5h2M592 32.5h2M600 32.5h4M612 32.5h2M623 32.5h2M633 32.5h2M641 32.5h2M651 32.5h2M663 32.5h2M671 32.5h4M700 32.5h2M724 32.5h2M766 32.5h2M781 32.5h2M787 32.5h4M796 32.5h2M807 32.5h2M849 32.5h2M871 32.5h2M879 32.5h3M891 32.5h2M912 32.5h2M921 32.5h3M948 32.5h2M959 32.5h2M996 32.5h2M1004 32.5h2M1015 32.5h2M1025 32.5h2M1037 32.5h3M1046 32.5h2M1056 32.5h4M1069 32.5h2M1077 32.5h2M1105 32.5h2M1116 32.5h2M1125 32.5h2M1136 32.5h2M1148 32.5h2M362 33.5h3M369 33.5h3M384 33.5h2M389 33.5h2M403 33.5h2M408 33.5h2M412 33.5h2M424 33.5h2M433 33.5h2M445 33.5h2M470 33.5h2M495 33.5h3M501 33.5h2M512 33.5h2M524 33.5h2M529 33.5h2M559 33.5h3M566 33.5h3M581 33.5h2M593 33.5h2M599 33.5h2M602 33.5h2M613 33.5h2M623 33.5h2M634 33.5h2M640 33.5h2M651 33.5h2M663 33.5h2M671 33.5h3M699 33.5h2M723 33.5h2M765 33.5h2M782 33.5h2M787 33.5h2M790 33.5h2M795 33.5h2M807 33.5h2M848 33.5h2M872 33.5h3M877 33.5h3M890 33.5h2M913 33.5h3M919 33.5h3M947 33.5h2M960 33.5h2M997 33.5h3M1002 33.5h3M1016 33.5h3M1023 33.5h3M1039 33.5h3M1044 33.5h3M1056 33.5h3M1070 33.5h3M1075 33.5h3M1105 33.5h2M1116 33.5h2M1125 33.5h2M1136 33.5h2M1148 33.5h2M365 34.5h5M386 34.5h4M405 34.5h4M426 34.5h3M498 34.5h4M526 34.5h4M562 34.5h5M583 34.5h3M595 34.5h5M615 34.5h4M636 34.5h5M672 34.5h2M699 34.5h15M787 34.5h2M792 34.5h4M848 34.5h16M875 34.5h3M890 34.5h16M916 34.5h4M1000 34.5h3M1019 34.5h5M1042 34.5h3M1057 34.5h2M1073 34.5h3M787 35.5h2M787 36.5h2M787 37.5h2M787 38.5h2M787 39.5h2M787 40.5h2M787 41.5h2"><title>South Pole Station: 27-Apr-2025 λ=630.0 nm</title></path><path id="xtitle" class="t" d="M722 750.5h8M855 750.5h7M722 751.5h3M859 751.5h3M722 752.5h3M859 752.5h3M662 753.5h2M722 753.5h3M859 753.5h3M647 754.5h12M661 754.5h3M722 754.5h3M734 754.5h2M746 754.5h2M823 754.5h2M835 754.5h2M840 754.5h13M859 754.5h3M651 755.5h2M722 755.5h3M734 755.5h2M746 755.5h2M823 755.5h2M835 755.5h2M845 755.5h2M859 755.5h3M651 756.5h2M722 756.5h3M734 756.5h2M746 756.5h2M823 756.5h2M835 756.5h2M845 756.5h2M859 756.5h3M651 757.5h2M722 757.5h3M734 757.5h2M746 757.5h2M823 757.5h2M835 757.5h2M845 757.5h2M859 757.5h3M651 758.5h2M722 758.5h3M734 758.5h2M746 758.5h2M823 758.5h2M835 758.5h2M845 758.5h2M859 758.5h3M651 759.5h2M662 759.5h2M668 759.5h2M672 759.5h6M681 759.5h6M696 759.5h6M722 759.5h3M734 759.5h2M746 759.5h2M755 759.5h6M768 759.5h2M778 759.5h2M784 759.5h2M788 759.5h5M797 759.5h6M823 759.5h2M835 759.5h2M845 759.5h2M859 759.5h3M651 760.5h2M662 760.5h2M668 760.5h2M671 760.5h2M677 760.5h2M680 760.5h2M686 760.5h2M695 760.5h2M701 760.5h2M722 760.5h3M734 760.5h2M746 760.5h2M754 760.5h2M760 760.5h2M768 760.5h2M778 760.5h2M784 760.5h2M787 760.5h2M795 760.5h3M802 760.5h3M823 760.5h2M835 760.5h2M845 760.5h2M859 760.5h3M651 761.5h2M662 761.5h2M668 761.5h4M677 761.5h4M686 761.5h2M695 761.5h2M702 761.5h2M722 761.5h3M734 761.5h2M746 761.5h2M753 761.5h2M761 761.5h2M768 761.5h2M778 761.5h2M784 761.5h4M795 761.5h2M803 761.5h2M823 761.5h2M835 761.5h2M845 761.5h2M859 761.5h3M651 762.5h2M662 762.5h2M668 762.5h3M678 762.5h3M687 762.5h2M694 762.5h2M702 762.5h2M722 762.5h3M734 762.5h14M752 762.5h2M762 762.5h2M768 762.5h2M778 762.5h2M784 762.5h3M795 762.5h2M823 762.5h2M835 762.5h2M845 762.5h2M859 762.5h3M651 763.5h2M662 763.5h2M668 763.5h2M678 763.5h2M687 763.5h2M694 763.5h2M703 763.5h2M722 763.5h3M734 763.5h2M746 763.5h2M752 763.5h2M762 763.5h2M768 763.5h2M778 763.5h2M784 763.5h3M795 763.5h2M823 763.5h2M835 763.5h2M845 763.5h2M859 763.5h3M651 764.5h2M662 764.5h2M668 764.5h2M678 764.5h2M687 764.5h2M693 764.5h12M722 764.5h3M734 764.5h2M746 764.5h2M752 764.5h2M763 764.5h2M768 764.5h2M778 764.5h2M784 764.5h2M796 764.5h5M823 764.5h2M835 764.5h2M845 764.5h2M859 764.5h3M651 765.5h2M662 765.5h2M668 765.5h2M678 765.5h2M687 765.5h2M693 765.5h2M722 765.5h3M734 765.5h2M746 765.5h2M752 765.5h2M763 765.5h2M768 765.5h2M778 765.5h2M784 765.5h2M800 765.5h4M823 765.5h2M835 765.5h2M845 765.5h2M859 765.5h3M651 766.5h2M662 766.5h2M668 766.5h2M678 766.5h2M687 766.5h2M693 766.5h2M722 766.5h3M734 766.5h2M746 766.5h2M752 766.5h2M763 766.5h2M768 766.5h2M778 766.5h2M784 766.5h2M803 766.5h2M823 766.5h2M835 766.5h2M845 766.5h2M859 766.5h3M651 767.5h2M662 767.5h2M668 767.5h2M678 767.5h2M687 767.5h2M693 767.5h2M722 767.5h3M734 767.5h2M746 767.5h2M752 767.5h2M763 767.5h2M768 767.5h2M778 767.5h2M784 767.5h2M803 767.5h2M823 767.5h2M835 767.5h2M845 767.5h2M859 767.5h3M651 768.5h2M662 768.5h2M668 768.5h2M678 768.5h2M687 768.5h2M694 768.5h2M722 768.5h3M734 768.5h2M746 768.5h2M752 768.5h2M762 768.5h2M768 768.5h2M778 768.5h2M784 768.5h2M804 768.5h2M824 768.5h2M834 768.5h2M845 768.5h2M859 768.5h3M651 769.5h2M662 769.5h2M668 769.5h2M678 769.5h2M687 769.5h2M694 769.5h2M702 769.5h3M722 769.5h3M734 769.5h2M746 769.5h2M752 769.5h3M761 769.5h3M768 769.5h2M776 769.5h4M784 769.5h2M795 769.5h2M804 769.5h2M824 769.5h3M833 769.5h3M845 769.5h2M859 769.5h3M651 770.5h2M662 770.5h2M668 770.5h2M678 770.5h2M687 770.5h2M695 770.5h3M700 770.5h3M722 770.5h3M734 770.5h2M746 770.5h2M754 770.5h3M759 770.5h3M769 770.5h3M774 770.5h3M778 770.5h2M784 770.5h2M795 770.5h3M802 770.5h3M826 770.5h3M831 770.5h3M845 770.5h2M859 770.5h3M698 771.5h3M722 771.5h3M757 771.5h3M772 771.5h3M797 771.5h6M829 771.5h3M859 771.5h3M722 772.5h3M859 772.5h3M722 773.5h3M859 773.5h3M722 774.5h3M859 774.5h3M722 775.5h3M859 775.5h3M722 776.5h3M859 776.5h3M722 777.5h3M859 777.5h3M723 778.5h7M855 778.5h7"><title>Time [Hours UT]</title></path><path id="ytitle" class="t" d="M34 236.5h29M34 237.5h29M34 238.5h2M61 238.5h2M34 239.5h2M61 239.5h2M34 240.5h2M61 240.5h2M34 241.5h2M61 241.5h2M45 247.5h3M51 247.5h4M44 248.5h2M50 248.5h2M54 248.5h2M44 249.5h2M50 249.5h2M54 249.5h2M43 250.5h2M49 250.5h2M55 250.5h2M43 251.5h2M49 251.5h2M55 251.5h2M43 252.5h2M49 252.5h2M55 252.5h2M43 253.5h2M48 253.5h2M55 253.5h2M43 254.5h2M48 254.5h2M55 254.5h2M44 255.5h2M48 255.5h2M54 255.5h2M44 256.5h5M53 256.5h3M46 257.5h2M34 261.5h2M35 262.5h3M37 263.5h3M39 264.5h3M41 265.5h3M43 266.5h2M44 267.5h3M46 268.5h3M48 269.5h3M50 270.5h3M52 271.5h2M53 272.5h3M55 273.5h3M57 274.5h3M59 275.5h3M45 281.5h12M44 282.5h2M43 283.5h2M43 284.5h2M43 285.5h2M43 286.5h2M43 287.5h2M44 288.5h2M45 289.5h2M45 290.5h12M44 291.5h2M44 292.5h2M43 293.5h2M43 294.5h2M43 295.5h2M43 296.5h2M44 297.5h2M45 298.5h2M44 299.5h13M34 305.5h2M61 305.5h2M34 306.5h2M61 306.5h2M34 307.5h2M61 307.5h2M34 308.5h2M61 308.5h2M34 309.5h2M61 309.5h2M34 310.5h29M35 311.5h28M43 330.5h3M45 331.5h3M47 332.5h4M50 333.5h3M52 334.5h3M54 335.5h3M52 336.5h3M56 336.5h3M49 337.5h4M58 337.5h3M47 338.5h3M60 338.5h2M45 339.5h3M60 339.5h2M44 340.5h2M61 340.5h2M61 341.5h2M55 343.5h2M43 344.5h2M55 344.5h2M43 345.5h2M55 345.5h2M43 346.5h2M55 346.5h2M38 347.5h18M43 348.5h2M43 349.5h2M37 354.5h2M36 355.5h4M44 355.5h13M37 356.5h2M46 361.5h2M52 361.5h2M45 362.5h2M53 362.5h2M44 363.5h2M54 363.5h2M43 364.5h2M55 364.5h2M43 365.5h2M55 365.5h2M43 366.5h2M55 366.5h2M43 367.5h2M55 367.5h2M44 368.5h2M54 368.5h2M45 369.5h2M53 369.5h2M46 370.5h3M51 370.5h3M49 371.5h3M47 376.5h6M46 377.5h2M52 377.5h2M45 378.5h2M53 378.5h2M44 379.5h2M54 379.5h2M43 380.5h2M55 380.5h2M43 381.5h2M55 381.5h2M43 382.5h2M55 382.5h2M43 383.5h2M55 383.5h2M44 384.5h2M54 384.5h2M45 385.5h2M53 385.5h2M46 386.5h3M51 386.5h3M49 387.5h3M38 393.5h19M46 399.5h4M52 399.5h3M44 400.5h3M48 400.5h2M54 400.5h2M44 401.5h2M48 401.5h2M54 401.5h2M43 402.5h2M48 402.5h2M55 402.5h2M43 403.5h2M48 403.5h2M55 403.5h2M43 404.5h2M48 404.5h2M55 404.5h2M43 405.5h2M48 405.5h2M55 405.5h2M44 406.5h2M48 406.5h2M54 406.5h2M45 407.5h2M48 407.5h2M53 407.5h2M46 408.5h4M51 408.5h3M49 409.5h3M37 412.5h3M39 413.5h3M41 414.5h4M44 415.5h4M47 416.5h3M49 417.5h4M52 418.5h3M54 419.5h3M52 420.5h3M49 421.5h4M46 422.5h4M44 423.5h3M41 424.5h4M39 425.5h3M38 426.5h2M45 443.5h12M44 444.5h2M44 445.5h2M43 446.5h2M43 447.5h2M43 448.5h2M43 449.5h2M44 450.5h2M45 451.5h2M45 452.5h2M38 453.5h19M55 458.5h2M43 459.5h2M55 459.5h2M43 460.5h2M55 460.5h2M43 461.5h2M53 461.5h3M38 462.5h16M43 463.5h2M36 469.5h4M44 469.5h13M37 470.5h2M45 476.5h12M44 477.5h2M44 478.5h2M43 479.5h2M43 480.5h2M43 481.5h2M43 482.5h2M44 483.5h2M45 484.5h2M44 485.5h13M46 491.5h4M52 491.5h2M45 492.5h2M48 492.5h2M53 492.5h2M44 493.5h2M48 493.5h2M54 493.5h2M44 494.5h2M48 494.5h2M54 494.5h2M43 495.5h2M48 495.5h2M55 495.5h2M43 496.5h2M48 496.5h2M55 496.5h2M43 497.5h2M48 497.5h2M55 497.5h2M43 498.5h2M48 498.5h2M55 498.5h2M44 499.5h2M48 499.5h2M54 499.5h2M45 500.5h2M48 500.5h2M53 500.5h2M47 501.5h7M37 507.5h2M55 507.5h2M37 508.5h4M55 508.5h2M37 509.5h2M40 509.5h3M55 509.5h2M37 510.5h2M42 510.5h2M55 510.5h2M37 511.5h2M43 511.5h3M55 511.5h2M37 512.5h2M45 512.5h3M55 512.5h2M37 513.5h2M47 513.5h2M55 513.5h2M37 514.5h2M48 514.5h3M55 514.5h2M37 515.5h2M50 515.5h2M55 515.5h2M37 516.5h2M51 516.5h3M55 516.5h2M37 517.5h2M53 517.5h4"><title>Zenith Velocity [m/s]</title></path><path id="yl300" class="t" d="M109 47.5h2M121 47.5h10M140 47.5h6M108 48.5h3M121 48.5h2M138 48.5h3M145 48.5h2M107 49.5h4M121 49.5h2M138 49.5h2M146 49.5h2M105 50.5h3M109 50.5h2M121 50.5h2M137 50.5h2M147 50.5h2M109 51.5h2M121 51.5h2M137 51.5h2M147 51.5h2M109 52.5h2M120 52.5h2M137 52.5h2M147 52.5h2M109 53.5h2M120 53.5h9M136 53.5h2M148 53.5h2M109 54.5h2M120 54.5h3M128 54.5h2M136 54.5h2M148 54.5h2M109 55.5h2M120 55.5h2M129 55.5h2M136 55.5h2M148 55.5h2M109 56.5h2M130 56.5h2M136 56.5h2M148 56.5h2M109 57.5h2M130 57.5h2M136 57.5h2M148 57.5h2M109 58.5h2M131 58.5h2M136 58.5h2M148 58.5h2M109 59.5h2M131 59.5h2M136 59.5h2M148 59.5h2M109 60.5h2M131 60.5h2M137 60.5h2M147 60.5h2M109 61.5h2M119 61.5h2M131 61.5h2M137 61.5h2M147 61.5h2M109 62.5h2M119 62.5h2M130 62.5h2M137 62.5h2M146 62.5h2M109 63.5h2M120 63.5h2M129 63.5h2M138 63.5h2M146 63.5h2M109 64.5h2M121 64.5h3M127 64.5h3M138 64.5h3M144 64.5h3M124 65.5h4M140 65.5h5"><title>150</title></path><path id="yl250" class="t" d="M109 149.5h2M123 149.5h6M140 149.5h6M108 150.5h3M122 150.5h2M128 150.5h2M138 150.5h3M145 150.5h2M107 151.5h4M121 151.5h2M129 151.5h2M138 151.5h2M146 151.5h2M106 152.5h2M109 152.5h2M121 152.5h2M129 152.5h2M137 152.5h2M146 152.5h2M105 153.5h2M109 153.5h2M120 153.5h2M130 153.5h2M137 153.5h2M147 153.5h2M109 154.5h2M120 154.5h2M130 154.5h2M137 154.5h2M147 154.5h2M109 155.5h2M120 155.5h2M130 155.5h2M137 155.5h2M147 155.5h2M109 156.5h2M119 156.5h2M131 156.5h2M136 156.5h2M148 156.5h2M109 157.5h2M119 157.5h2M131 157.5h2M136 157.5h2M148 157.5h2M109 158.5h2M119 158.5h2M131 158.5h2M136 158.5h2M148 158.5h2M109 159.5h2M119 159.5h2M131 159.5h2M136 159.5h2M148 159.5h2M109 160.5h2M119 160.5h2M131 160.5h2M136 160.5h2M148 160.5h2M109 161.5h2M119 161.5h2M131 161.5h2M136 161.5h2M148 161.5h2M109 162.5h2M120 162.5h2M130 162.5h2M137 162.5h2M147 162.5h2M109 163.5h2M120 163.5h2M130 163.5h2M137 163.5h2M147 163.5h2M109 164.5h2M120 164.5h2M130 164.5h2M137 164.5h2M147 164.5h2M109 165.5h2M121 165.5h2M129 165.5h2M137 165.5h2M146 165.5h2M109 166.5h2M122 166.5h3M127 166.5h3M138 166.5h3M144 166.5h3M125 167.5h3M140 167.5h5"><title>100</title></path><path id="yl200" class="t" d="M121 259.5h10M138 259.5h9M121 260.5h2M138 260.5h2M146 260.5h2M121 261.5h2M137 261.5h2M146 261.5h2M121 262.5h2M137 262.5h2M147 262.5h2M120 263.5h2M137 263.5h2M147 263.5h2M120 264.5h2M137 264.5h2M147 264.5h2M120 265.5h10M136 265.5h2M148 265.5h2M120 266.5h2M129 266.5h2M136 266.5h2M148 266.5h2M130 267.5h2M136 267.5h2M148 267.5h2M130 268.5h2M136 268.5h2M148 268.5h2M131 269.5h2M136 269.5h2M148 269.5h2M131 270.5h2M136 270.5h2M148 270.5h2M131 271.5h2M136 271.5h2M148 271.5h2M131 272.5h2M137 272.5h2M147 272.5h2M119 273.5h2M130 273.5h2M137 273.5h2M147 273.5h2M119 274.5h2M129 274.5h3M137 274.5h2M146 274.5h2M120 275.5h4M127 275.5h3M138 275.5h3M144 275.5h3M124 276.5h4M140 276.5h5"><title>50</title></path><path id="yl150" class="t" d="M140 368.5h6M138 369.5h3M145 369.5h2M138 370.5h2M146 370.5h2M137 371.5h2M147 371.5h2M137 372.5h2M147 372.5h2M137 373.5h2M147 373.5h2M136 374.5h2M148 374.5h2M136 375.5h2M148 375.5h2M136 376.5h2M148 376.5h2M136 377.5h2M148 377.5h2M136 378.5h2M148 378.5h2M136 379.5h2M148 379.5h2M136 380.5h2M148 380.5h2M137 381.5h2M147 381.5h2M137 382.5h2M147 382.5h2M137 383.5h2M146 383.5h2M138 384.5h2M146 384.5h2M138 385.5h3M144 385.5h3M140 386.5h5"><title>0</title></path><path id="yl100" class="t" d="M121 477.5h10M140 477.5h6M121 478.5h2M138 478.5h3M145 478.5h2M121 479.5h2M138 479.5h2M146 479.5h2M121 480.5h2M137 480.5h2M146 480.5h2M121 481.5h2M137 481.5h2M147 481.5h2M120 482.5h2M137 482.5h2M147 482.5h2M120 483.5h9M137 483.5h2M147 483.5h2M120 484.5h3M128 484.5h2M136 484.5h2M148 484.5h2M120 485.5h2M129 485.5h2M136 485.5h2M148 485.5h2M130 486.5h2M136 486.5h2M148 486.5h2M99 487.5h16M130 487.5h2M136 487.5h2M148 487.5h2M131 488.5h2M136 488.5h2M148 488.5h2M131 489.5h2M136 489.5h2M148 489.5h2M131 490.5h2M137 490.5h2M147 490.5h2M131 491.5h2M137 491.5h2M147 491.5h2M119 492.5h2M130 492.5h2M137 492.5h2M147 492.5h2M120 493.5h2M129 493.5h2M137 493.5h2M146 493.5h2M121 494.5h3M127 494.5h3M138 494.5h3M144 494.5h3M124 495.5h4M140 495.5h5"><title>-50</title></path><path id="yl50" class="t" d="M109 587.5h2M122 587.5h8M138 587.5h9M107 588.5h4M121 588.5h2M129 588.5h2M138 588.5h2M146 588.5h2M106 589.5h2M109 589.5h2M121 589.5h2M129 589.5h2M137 589.5h2M146 589.5h2M105 590.5h2M109 590.5h2M120 590.5h2M130 590.5h2M137 590.5h2M147 590.5h2M109 591.5h2M120 591.5h2M130 591.5h2M137 591.5h2M147 591.5h2M109 592.5h2M120 592.5h2M130 592.5h2M137 592.5h2M147 592.5h2M109 593.5h2M119 593.5h2M131 593.5h2M136 593.5h2M148 593.5h2M109 594.5h2M119 594.5h2M131 594.5h2M136 594.5h2M148 594.5h2M109 595.5h2M119 595.5h2M131 595.5h2M136 595.5h2M148 595.5h2M109 596.5h2M119 596.5h2M131 596.5h2M136 596.5h2M148 596.5h2M82 597.5h16M109 597.5h2M119 597.5h2M131 597.5h2M136 597.5h2M148 597.5h2M109 598.5h2M119 598.5h2M131 598.5h2M136 598.5h2M148 598.5h2M109 599.5h2M119 599.5h2M131 599.5h2M136 599.5h2M148 599.5h2M109 600.5h2M120 600.5h2M130 600.5h2M137 600.5h2M147 600.5h2M109 601.5h2M120 601.5h2M130 601.5h2M137 601.5h2M147 601.5h2M109 602.5h2M121 602.5h2M129 602.5h2M137 602.5h2M146 602.5h2M109 603.5h2M122 603.5h3M127 603.5h3M138 603.5h3M144 603.5h3M125 604.5h3M140 604.5h5"><title>-100</title></path><path id="yl0" class="t" d="M109 686.5h2M121 686.5h10M140 686.5h6M108 687.5h3M121 687.5h2M138 687.5h3M145 687.5h2M107 688.5h4M121 688.5h2M138 688.5h2M146 688.5h2M105 689.5h3M109 689.5h2M121 689.5h2M137 689.5h2M147 689.5h2M109 690.5h2M121 690.5h2M137 690.5h2M147 690.5h2M109 691.5h2M120 691.5h2M137 691.5h2M147 691.5h2M109 692.5h2M120 692.5h9M136 692.5h2M148 692.5h2M109 693.5h2M120 693.5h3M128 693.5h2M136 693.5h2M148 693.5h2M109 694.5h2M120 694.5h2M129 694.5h2M136 694.5h2M148 694.5h2M109 695.5h2M130 695.5h2M136 695.5h2M148 695.5h2M82 696.5h16M109 696.5h2M130 696.5h2M136 696.5h2M148 696.5h2M109 697.5h2M131 697.5h2M136 697.5h2M148 697.5h2M109 698.5h2M131 698.5h2M136 698.5h2M148 698.5h2M109 699.5h2M131 699.5h2M137 699.5h2M147 699.5h2M109 700.5h2M119 700.5h2M131 700.5h2M137 700.5h2M147 700.5h2M109 701.5h2M119 701.5h2M130 701.5h2M137 701.5h2M146 701.5h2M109 702.5h2M120 702.5h2M129 702.5h2M138 702.5h2M146 702.5h2M109 703.5h2M121 703.5h3M127 703.5h3M138 703.5h3M144 703.5h3M124 704.5h4M140 704.5h5"><title>-150</title></path><path id="xl3" class="t" d="M339 722.5h6M355 722.5h10M338 723.5h2M344 723.5h2M362 723.5h2M337 724.5h2M345 724.5h2M362 724.5h2M336 725.5h2M346 725.5h2M361 725.5h2M336 726.5h2M346 726.5h2M360 726.5h2M336 727.5h2M346 727.5h2M359 727.5h2M335 728.5h2M347 728.5h2M359 728.5h2M335 729.5h2M347 729.5h2M359 729.5h4M335 730.5h2M347 730.5h2M362 730.5h2M335 731.5h2M347 731.5h2M363 731.5h2M335 732.5h2M347 732.5h2M363 732.5h2M335 733.5h2M347 733.5h2M364 733.5h2M335 734.5h2M347 734.5h2M364 734.5h2M336 735.5h2M346 735.5h2M364 735.5h2M336 736.5h2M346 736.5h2M352 736.5h2M364 736.5h2M337 737.5h2M345 737.5h2M352 737.5h2M363 737.5h2M337 738.5h2M345 738.5h2M353 738.5h2M362 738.5h2M338 739.5h3M343 739.5h3M354 739.5h3M360 739.5h3M341 740.5h3M357 740.5h4"><title>03</title></path><path id="xl8" class="t" d="M566 722.5h6M582 722.5h8M565 723.5h2M571 723.5h2M581 723.5h2M589 723.5h2M564 724.5h2M572 724.5h2M581 724.5h2M589 724.5h2M563 725.5h2M573 725.5h2M580 725.5h2M590 725.5h2M563 726.5h2M573 726.5h2M580 726.5h2M590 726.5h2M563 727.5h2M573 727.5h2M580 727.5h2M590 727.5h2M562 728.5h2M574 728.5h2M581 728.5h2M588 728.5h3M562 729.5h2M574 729.5h2M582 729.5h7M562 730.5h2M574 730.5h2M583 730.5h6M562 731.5h2M574 731.5h2M581 731.5h3M588 731.5h3M562 732.5h2M574 732.5h2M580 732.5h2M590 732.5h2M562 733.5h2M574 733.5h2M580 733.5h2M590 733.5h2M562 734.5h2M574 734.5h2M579 734.5h2M591 734.5h2M563 735.5h2M573 735.5h2M579 735.5h2M591 735.5h2M563 736.5h2M573 736.5h2M579 736.5h2M591 736.5h2M564 737.5h2M572 737.5h2M579 737.5h2M591 737.5h2M564 738.5h2M572 738.5h2M580 738.5h2M590 738.5h2M565 739.5h3M570 739.5h3M581 739.5h3M588 739.5h3M568 740.5h3M584 740.5h5"><title>08</title></path><path id="xl13" class="t" d="M796 722.5h2M809 722.5h10M795 723.5h3M816 723.5h2M794 724.5h4M816 724.5h2M792 725.5h3M796 725.5h2M815 725.5h2M796 726.5h2M814 726.5h2M796 727.5h2M813 727.5h2M796 728.5h2M813 728.5h2M796 729.5h2M813 729.5h4M796 730.5h2M816 730.5h2M796 731.5h2M817 731.5h2M796 732.5h2M817 732.5h2M796 733.5h2M818 733.5h2M796 734.5h2M818 734.5h2M796 735.5h2M818 735.5h2M796 736.5h2M806 736.5h2M818 736.5h2M796 737.5h2M806 737.5h2M817 737.5h2M796 738.5h2M807 738.5h2M816 738.5h2M796 739.5h2M808 739.5h3M814 739.5h3M811 740.5h4"><title>13</title></path><path id="xl18" class="t" d="M1023 722.5h2M1036 722.5h8M1022 723.5h3M1035 723.5h2M1043 723.5h2M1021 724.5h4M1035 724.5h2M1043 724.5h2M1019 725.5h3M1023 725.5h2M1034 725.5h2M1044 725.5h2M1023 726.5h2M1034 726.5h2M1044 726.5h2M1023 727.5h2M1034 727.5h2M1044 727.5h2M1023 728.5h2M1035 728.5h2M1042 728.5h3M1023 729.5h2M1036 729.5h7M1023 730.5h2M1037 730.5h6M1023 731.5h2M1035 731.5h3M1042 731.5h3M1023 732.5h2M1034 732.5h2M1044 732.5h2M1023 733.5h2M1034 733.5h2M1044 733.5h2M1023 734.5h2M1033 734.5h2M1045 734.5h2M1023 735.5h2M1033 735.5h2M1045 735.5h2M1023 736.5h2M1033 736.5h2M1045 736.5h2M1023 737.5h2M1033 737.5h2M1045 737.5h2M1023 738.5h2M1034 738.5h2M1044 738.5h2M1023 739.5h2M1035 739.5h3M1042 739.5h3M1038 740.5h5"><title>18</title></path><path id="xl23" class="t" d="M1247 722.5h6M1263 722.5h10M1246 723.5h2M1252 723.5h2M1270 723.5h2M1245 724.5h2M1253 724.5h2M1270 724.5h2M1244 725.5h2M1254 725.5h2M1269 725.5h2M1244 726.5h2M1254 726.5h2M1268 726.5h2M1254 727.5h2M1267 727.5h2M1254 728.5h2M1267 728.5h2M1253 729.5h2M1267 729.5h4M1253 730.5h2M1270 730.5h2M1252 731.5h2M1271 731.5h2M1251 732.5h2M1271 732.5h2M1250 733.5h2M1272 733.5h2M1249 734.5h2M1272 734.5h2M1248 735.5h2M1272 735.5h2M1247 736.5h2M1260 736.5h2M1272 736.5h2M1246 737.5h2M1260 737.5h2M1271 737.5h2M1245 738.5h2M1261 738.5h2M1270 738.5h2M1244 739.5h2M1262 739.5h3M1268 739.5h3M1244 740.5h13M1265 740.5h4"><title>23</title></path></g>
<g class="lbl">
<text x="356" y="34" textLength="796" font-size="28">South Pole Station: 27-Apr-2025 λ=630.0 nm</text>
<text x="647" y="771" textLength="216">Time [Hours UT]</text>
<text transform="translate(56 521) rotate(-90)" textLength="287">Zenith Velocity [m/s]</text>
<text x="151" y="65" text-anchor="end">150</text>
<text x="151" y="167" text-anchor="end">100</text>
<text x="151" y="276" text-anchor="end">50</text>
<text x="151" y="386" text-anchor="end">0</text>
<text x="151" y="495" text-anchor="end">-50</text>
<text x="151" y="604" text-anchor="end">-100</text>
<text x="151" y="704" text-anchor="end">-150</text>
<text x="351" y="740" text-anchor="middle">03</text>
<text x="578" y="740" text-anchor="middle">08</text>
<text x="805" y="740" text-anchor="middle">13</text>
<text x="1032" y="740" text-anchor="middle">18</text>
<text x="1259" y="740" text-anchor="middle">23</text>
</g>
</svg></body></html>
